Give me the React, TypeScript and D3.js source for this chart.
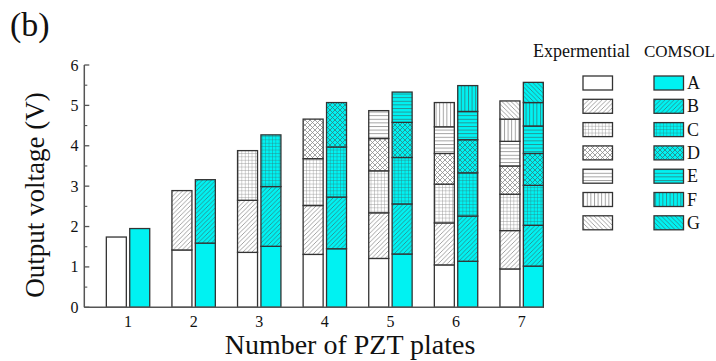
import React from "react";
import * as d3 from "d3";

// number of plates on the x axis
const plates = [1, 2, 3, 4, 5, 6, 7];
// segment letters, bottom to top
const segLabels = ["A", "B", "C", "D", "E", "F", "G"];
// cumulative top of each stacked segment (V)
const expTops = [
  [1.74],
  [1.42, 2.89],
  [1.36, 2.65, 3.88],
  [1.31, 2.52, 3.68, 4.66],
  [1.21, 2.34, 3.38, 4.18, 4.87],
  [1.05, 2.09, 3.05, 3.81, 4.47, 5.07],
  [0.95, 1.9, 2.8, 3.5, 4.11, 4.66, 5.11],
];
const comsolTops = [
  [1.95],
  [1.59, 3.16],
  [1.51, 2.99, 4.27],
  [1.45, 2.73, 3.97, 5.07],
  [1.32, 2.56, 3.71, 4.58, 5.33],
  [1.14, 2.26, 3.33, 4.15, 4.85, 5.49],
  [1.02, 2.03, 3.02, 3.81, 4.49, 5.07, 5.57],
];
const yTicks = [0, 1, 2, 3, 4, 5, 6];
const yMinor = [0.5, 1.5, 2.5, 3.5, 4.5, 5.5];

const W = 716;
const H = 361;
const FONT = "'Liberation Serif', 'Times New Roman', serif";
const CYAN = "#00f2f2";
const EDGE = "#333";

const x = d3.scaleLinear().domain([1 / 3, 7 + 1 / 3]).range([84.3, 543.5]);
const y = d3.scaleLinear().domain([0, 6]).range([307.3, 65]);

// hatch pattern shapes per segment letter
function patternBody(letter: string, color: string) {
  const sw = 0.8;
  switch (letter) {
    case "B":
      return { size: 4.5, d: "M-1,1 l2,-2 M0,4.5 l4.5,-4.5 M3.5,5.5 l2,-2", color, sw };
    case "C":
      return { size: 3.4, d: "M0,0 H3.4 M0,0 V3.4", color, sw };
    case "D":
      return { size: 5, d: "M0,0 L5,5 M5,0 L0,5 M-1,4 l2,2 M4,-1 l2,2 M-1,1 l2,-2 M4,6 l2,-2", color, sw };
    case "E":
      return { size: 3.6, d: "M0,0.5 H3.6", color, sw };
    case "F":
      return { size: 3.6, d: "M0.5,0 V3.6", color, sw };
    case "G":
      return { size: 4.5, d: "M-1,3.5 l2,2 M0,0 l4.5,4.5 M3.5,-1 l2,2", color, sw };
    default:
      return null;
  }
}

function Defs() {
  const out: any[] = [];
  ["exp", "com"].forEach((kind) => {
    const color = kind === "exp" ? "#8c8c8c" : "#2f7f7f";
    segLabels.forEach((l) => {
      const p = patternBody(l, color);
      if (!p) return;
      out.push(
        <pattern key={kind + l} id={`${kind}-${l}`} patternUnits="userSpaceOnUse" width={p.size} height={p.size}>
          <path d={p.d} stroke={p.color} strokeWidth={p.sw} fill="none" />
        </pattern>
      );
    });
  });
  return <defs>{out}</defs>;
}

function Box({ x0, y0, w, h, kind, letter }: any) {
  const bg = kind === "exp" ? "#fff" : CYAN;
  return (
    <g>
      <rect x={x0} y={y0} width={w} height={h} fill={bg} />
      {letter !== "A" && <rect x={x0} y={y0} width={w} height={h} fill={`url(#${kind}-${letter})`} />}
      <rect x={x0} y={y0} width={w} height={h} fill="none" stroke={EDGE} strokeWidth={1.3} />
    </g>
  );
}

function Stack({ tops, cx, kind }: any) {
  return (
    <g>
      {tops.map((t: number, i: number) => {
        const lo = i === 0 ? 0 : tops[i - 1];
        return <Box key={i} x0={cx} y0={y(t)} w={20} h={y(lo) - y(t)} kind={kind} letter={segLabels[i]} />;
      })}
    </g>
  );
}

export default function App() {
  const legendRows = segLabels.map((l, i) => ({ l, top: 76 + i * 23.3 }));
  return (
    <svg width={W} height={H} style={{ position: "absolute", left: 0, top: 0, background: "#fff" }} fontFamily={FONT}>
      <Defs />
      <text x={10} y={36} fontSize={34} fill="#111">(b)</text>

      {/* bars */}
      {plates.map((p, i) => (
        <g key={p}>
          <Stack tops={expTops[i]} cx={x(p) - 21.7} kind="exp" />
          <Stack tops={comsolTops[i]} cx={x(p) + 1.7} kind="com" />
        </g>
      ))}

      {/* axes */}
      <line x1={x.range()[0]} x2={x.range()[0]} y1={y(6)} y2={y(0)} stroke="#555" strokeWidth={1.5} />
      <line x1={x.range()[0]} x2={x.range()[1]} y1={y(0)} y2={y(0)} stroke="#555" strokeWidth={1.5} />
      {yTicks.map((t) => (
        <g key={t}>
          <line x1={x.range()[0]} x2={x.range()[0] + 5} y1={y(t)} y2={y(t)} stroke="#555" strokeWidth={1.3} />
          <text x={78.5} y={y(t) + 5.5} textAnchor="end" fontSize={16} fill="#111">{t}</text>
        </g>
      ))}
      {yMinor.map((t) => (
        <line key={t} x1={x.range()[0]} x2={x.range()[0] + 3} y1={y(t)} y2={y(t)} stroke="#555" strokeWidth={1.1} />
      ))}
      {plates.map((p) => (
        <text key={p} x={x(p)} y={327} textAnchor="middle" fontSize={16} fill="#111">{p}</text>
      ))}
      <text x={350} y={354} textAnchor="middle" fontSize={28} fill="#111">Number of PZT plates</text>
      <text transform="translate(44,195) rotate(-90)" textAnchor="middle" fontSize={27} fill="#111">Output voltage (V)</text>

      {/* legend */}
      <text x={533} y={57} fontSize={18} fill="#111">Expermential</text>
      <text x={644} y={57} fontSize={17} fill="#111">COMSOL</text>
      {legendRows.map(({ l, top }) => (
        <g key={l}>
          <Box x0={583} y0={top} w={29.5} h={14} kind="exp" letter={l} />
          <Box x0={654} y0={top} w={29.5} h={14} kind="com" letter={l} />
          <text x={687} y={top + 13} fontSize={18} fill="#111">{l}</text>
        </g>
      ))}
    </svg>
  );
}
